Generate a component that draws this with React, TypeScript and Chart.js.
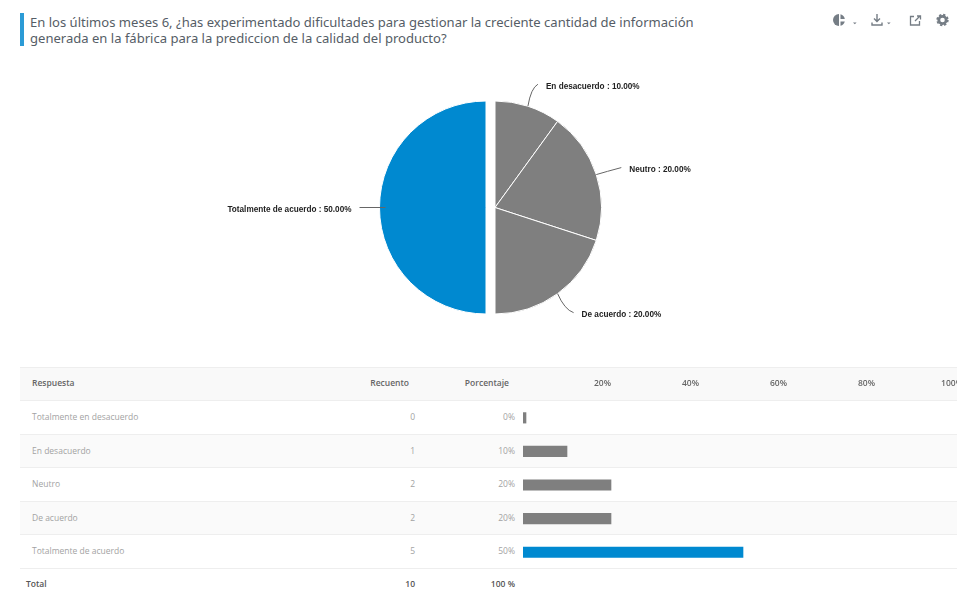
import React, { useEffect, useRef } from "react";
import { Chart, registerables } from "chart.js";

Chart.register(...registerables);

const title = [
  "En los últimos meses 6, ¿has experimentado dificultades para gestionar la creciente cantidad de información",
  "generada en la fábrica para la prediccion de la calidad del producto?",
];
const categories = ["Totalmente en desacuerdo", "En desacuerdo", "Neutro", "De acuerdo", "Totalmente de acuerdo"];
const counts = [0, 1, 2, 2, 5];
const percentages = [0, 10, 20, 20, 50];
const sliceColors = ["#7f7f7f", "#7f7f7f", "#7f7f7f", "#7f7f7f", "#0089d0"];
const explodedBy = [0, 0, 0, 0, 9];
const headers = ["Respuesta", "Recuento", "Porcentaje"];
const totals = ["Total", "10", "100 %"];
const axisTicks = [20, 40, 60, 80, 100];

const TEXT_FONT = "'Open Sans', sans-serif";
const ROW_TOP = 366.7;
const ROW_H = 33.55;

// Leader line end and label anchor, relative to the outer edge of each slice.
const leaderEnds: Record<number, { dx: number; dy: number; cx: number; cy: number }> = {
  1: { dx: 10, dy: -22, cx: 3, cy: -18 },
  2: { dx: 25, dy: -7, cx: 10, cy: -3 },
  3: { dx: 16, dy: 19, cx: 7, cy: 16 },
  4: { dx: -20, dy: 0, cx: -10, cy: 0 },
};

// Slides a slice straight out along its middle angle, keeping its radius and
// leaving its straight edges untouched.
const explodeSlices = {
  id: "explodeSlices",
  beforeDatasetsDraw(chart: any) {
    const { left, right, top, bottom } = chart.chartArea;
    const cx = (left + right) / 2;
    const cy = (top + bottom) / 2;
    chart.getDatasetMeta(0).data.forEach((arc: any, i: number) => {
      const mid = (arc.startAngle + arc.endAngle) / 2;
      arc.x = cx + Math.cos(mid) * explodedBy[i];
      arc.y = cy + Math.sin(mid) * explodedBy[i];
    });
  },
};

const pieLabels = {
  id: "pieLabels",
  afterDatasetsDraw(chart: any) {
    const { ctx } = chart;
    const meta = chart.getDatasetMeta(0);
    ctx.save();
    ctx.font = "bold 8.2px 'Liberation Sans', Arial, sans-serif";
    ctx.textBaseline = "middle";
    meta.data.forEach((arc: any, i: number) => {
      const leader = leaderEnds[i];
      if (!leader) return;
      const mid = (arc.startAngle + arc.endAngle) / 2;
      const ex = arc.x + Math.cos(mid) * arc.outerRadius;
      const ey = arc.y + Math.sin(mid) * arc.outerRadius;
      const inset = leader.dx < 0 && leader.dy === 0 ? 6 : 0;
      ctx.beginPath();
      ctx.moveTo(ex - Math.cos(mid) * inset, ey - Math.sin(mid) * inset);
      ctx.quadraticCurveTo(ex + leader.cx, ey + leader.cy, ex + leader.dx, ey + leader.dy);
      ctx.strokeStyle = "#666666";
      ctx.lineWidth = 1;
      ctx.stroke();
      const left = leader.dx < 0;
      ctx.textAlign = left ? "right" : "left";
      ctx.fillStyle = "#222222";
      const text = `${categories[i]} : ${percentages[i].toFixed(2)}%`;
      ctx.fillText(text, ex + leader.dx + (left ? -8 : 8), ey + leader.dy + 2.5);
    });
    ctx.restore();
  },
};

const cell = (x: number, y: number, text: string, style: React.CSSProperties, right = false) => (
  <div
    key={`${text}-${x}-${y}`}
    style={{
      position: "absolute",
      top: y - 10,
      height: 20,
      lineHeight: "20px",
      whiteSpace: "nowrap",
      fontFamily: TEXT_FONT,
      ...(right ? { right: 957 - x } : { left: x }),
      ...style,
    }}
  >
    {text}
  </div>
);

const ICON = "#757d85";

export default function App() {
  const pieRef = useRef<HTMLCanvasElement>(null);
  const barRef = useRef<HTMLCanvasElement>(null);

  useEffect(() => {
    const pie = new Chart(pieRef.current!, {
      type: "pie",
      data: {
        labels: categories,
        datasets: [
          {
            data: percentages,
            backgroundColor: sliceColors,
            borderColor: "#ffffff",
            borderWidth: 1,
          },
        ],
      },
      options: {
        animation: false,
        responsive: false,
        radius: 106.5,
        layout: { padding: 0 },
        plugins: { legend: { display: false }, tooltip: { enabled: false } },
      },
      plugins: [explodeSlices, pieLabels],
    } as any);

    const bars = new Chart(barRef.current!, {
      type: "bar",
      data: {
        labels: categories,
        datasets: [
          {
            data: percentages,
            backgroundColor: sliceColors,
            barThickness: 10.5,
            minBarLength: 3,
          },
        ],
      },
      options: {
        animation: false,
        responsive: false,
        indexAxis: "y",
        layout: { padding: 0 },
        plugins: { legend: { display: false }, tooltip: { enabled: false } },
        scales: {
          y: { display: false },
          x: {
            position: "top",
            min: 0,
            max: 100,
            border: { display: false },
            grid: { display: false, drawTicks: true, tickLength: 12 },
            afterFit(scale: any) {
              scale.height = ROW_H + 0.5;
            },
            ticks: {
              stepSize: 20,
              autoSkip: false,
              maxRotation: 0,
              align: "end",
              padding: 0,
              color: "#666666",
              font: { family: "'Open Sans', sans-serif", size: 8.5, weight: "600" },
              callback: (v: any) => (axisTicks.includes(v) ? `${v}%` : ""),
            },
          },
        },
      },
    } as any);

    return () => {
      pie.destroy();
      bars.destroy();
    };
  }, []);

  const headStyle: React.CSSProperties = { fontSize: 8.5, fontWeight: 600, color: "#666666" };
  const bodyStyle: React.CSSProperties = { fontSize: 8.5, color: "#a3a3a3" };
  const totalStyle: React.CSSProperties = { fontSize: 8.5, fontWeight: 600, color: "#555555" };

  return (
    <div style={{ position: "fixed", left: 0, top: 0, width: 957, height: 590, overflow: "hidden", background: "#fff" }}>
      <div style={{ position: "absolute", left: 20, top: 13, width: 4, height: 33, background: "#2b9bd6" }} />
      {title.map((line, i) => (
        <div
          key={line}
          style={{
            position: "absolute",
            left: 30,
            top: 14 + i * 16,
            lineHeight: "16px",
            fontSize: 13.05,
            color: "#555d66",
            whiteSpace: "nowrap",
            fontFamily: "'Noto Sans', sans-serif",
          }}
        >
          {line}
        </div>
      ))}

      <svg style={{ position: "absolute", left: 825, top: 8 }} width={132} height={26} viewBox="0 0 132 26">
        <path d="M14 6a6 6 0 0 0 0 12z" fill={ICON} />
        <path d="M15.500 6.200a6 6 0 0 1 4.300 4.800h-4.300zM15.500 13.500h4.300a6 6 0 0 1-4.300 4.300z" fill={ICON} />
        <path d="M28 14.500l1.800 1.800 1.800-1.800z" fill={ICON} />
        <path d="M52 6v7.500m-3-3l3 3 3-3M47 14.500v2.500h10v-2.500" fill="none" stroke={ICON} strokeWidth="1.400" />
        <path d="M62 14.500l1.800 1.800 1.800-1.800z" fill={ICON} />
        <path d="M89 8.500h-3.500v8.500h9v-4M90 13l5-5m-3 0h3.500v3.500" fill="none" stroke={ICON} strokeWidth="1.300" />
        <circle cx="117.500" cy="12" r="3.700" fill="none" stroke={ICON} strokeWidth="2.800" />
        <circle cx="117.500" cy="12" r="5.300" fill="none" stroke={ICON} strokeWidth="1.800" strokeDasharray="2.300 1.860" />
      </svg>

      <div style={{ position: "absolute", inset: 0 }}>
        <div style={{ position: "absolute", left: 20, right: 0, top: ROW_TOP, height: ROW_H, background: "#f9f9f9" }} />
        {[1, 3].map((r) => (
          <div
            key={r}
            style={{ position: "absolute", left: 20, right: 0, top: ROW_TOP + ROW_H * (r + 1), height: ROW_H, background: "#fafafa" }}
          />
        ))}
        {[0, 1, 2, 3, 4, 5, 6].map((r) => (
          <div
            key={`line-${r}`}
            style={{ position: "absolute", left: 20, right: 0, top: ROW_TOP + ROW_H * r, height: 1, background: "#eeeeee" }}
          />
        ))}
        {cell(32, 383, headers[0], headStyle)}
        {cell(409, 383, headers[1], headStyle, true)}
        {cell(509, 383, headers[2], headStyle, true)}
        {categories.map((c, i) => {
          const y = ROW_TOP + ROW_H * (i + 1.5);
          return (
            <React.Fragment key={c}>
              {cell(32, y, c, bodyStyle)}
              {cell(415, y, String(counts[i]), bodyStyle, true)}
              {cell(515, y, `${percentages[i]}%`, bodyStyle, true)}
            </React.Fragment>
          );
        })}
        {cell(26, 584, totals[0], totalStyle)}
        {cell(415, 584, totals[1], totalStyle, true)}
        {cell(515, 584, totals[2], totalStyle, true)}
      </div>
      <canvas
        ref={pieRef}
        width={990}
        height={415}
        style={{ position: "absolute", left: 0, top: 0, width: 990, height: 415 }}
      />
      <canvas
        ref={barRef}
        width={440}
        height={202}
        style={{ position: "absolute", left: 523, top: ROW_TOP, width: 440, height: 202 }}
      />
    </div>
  );
}
